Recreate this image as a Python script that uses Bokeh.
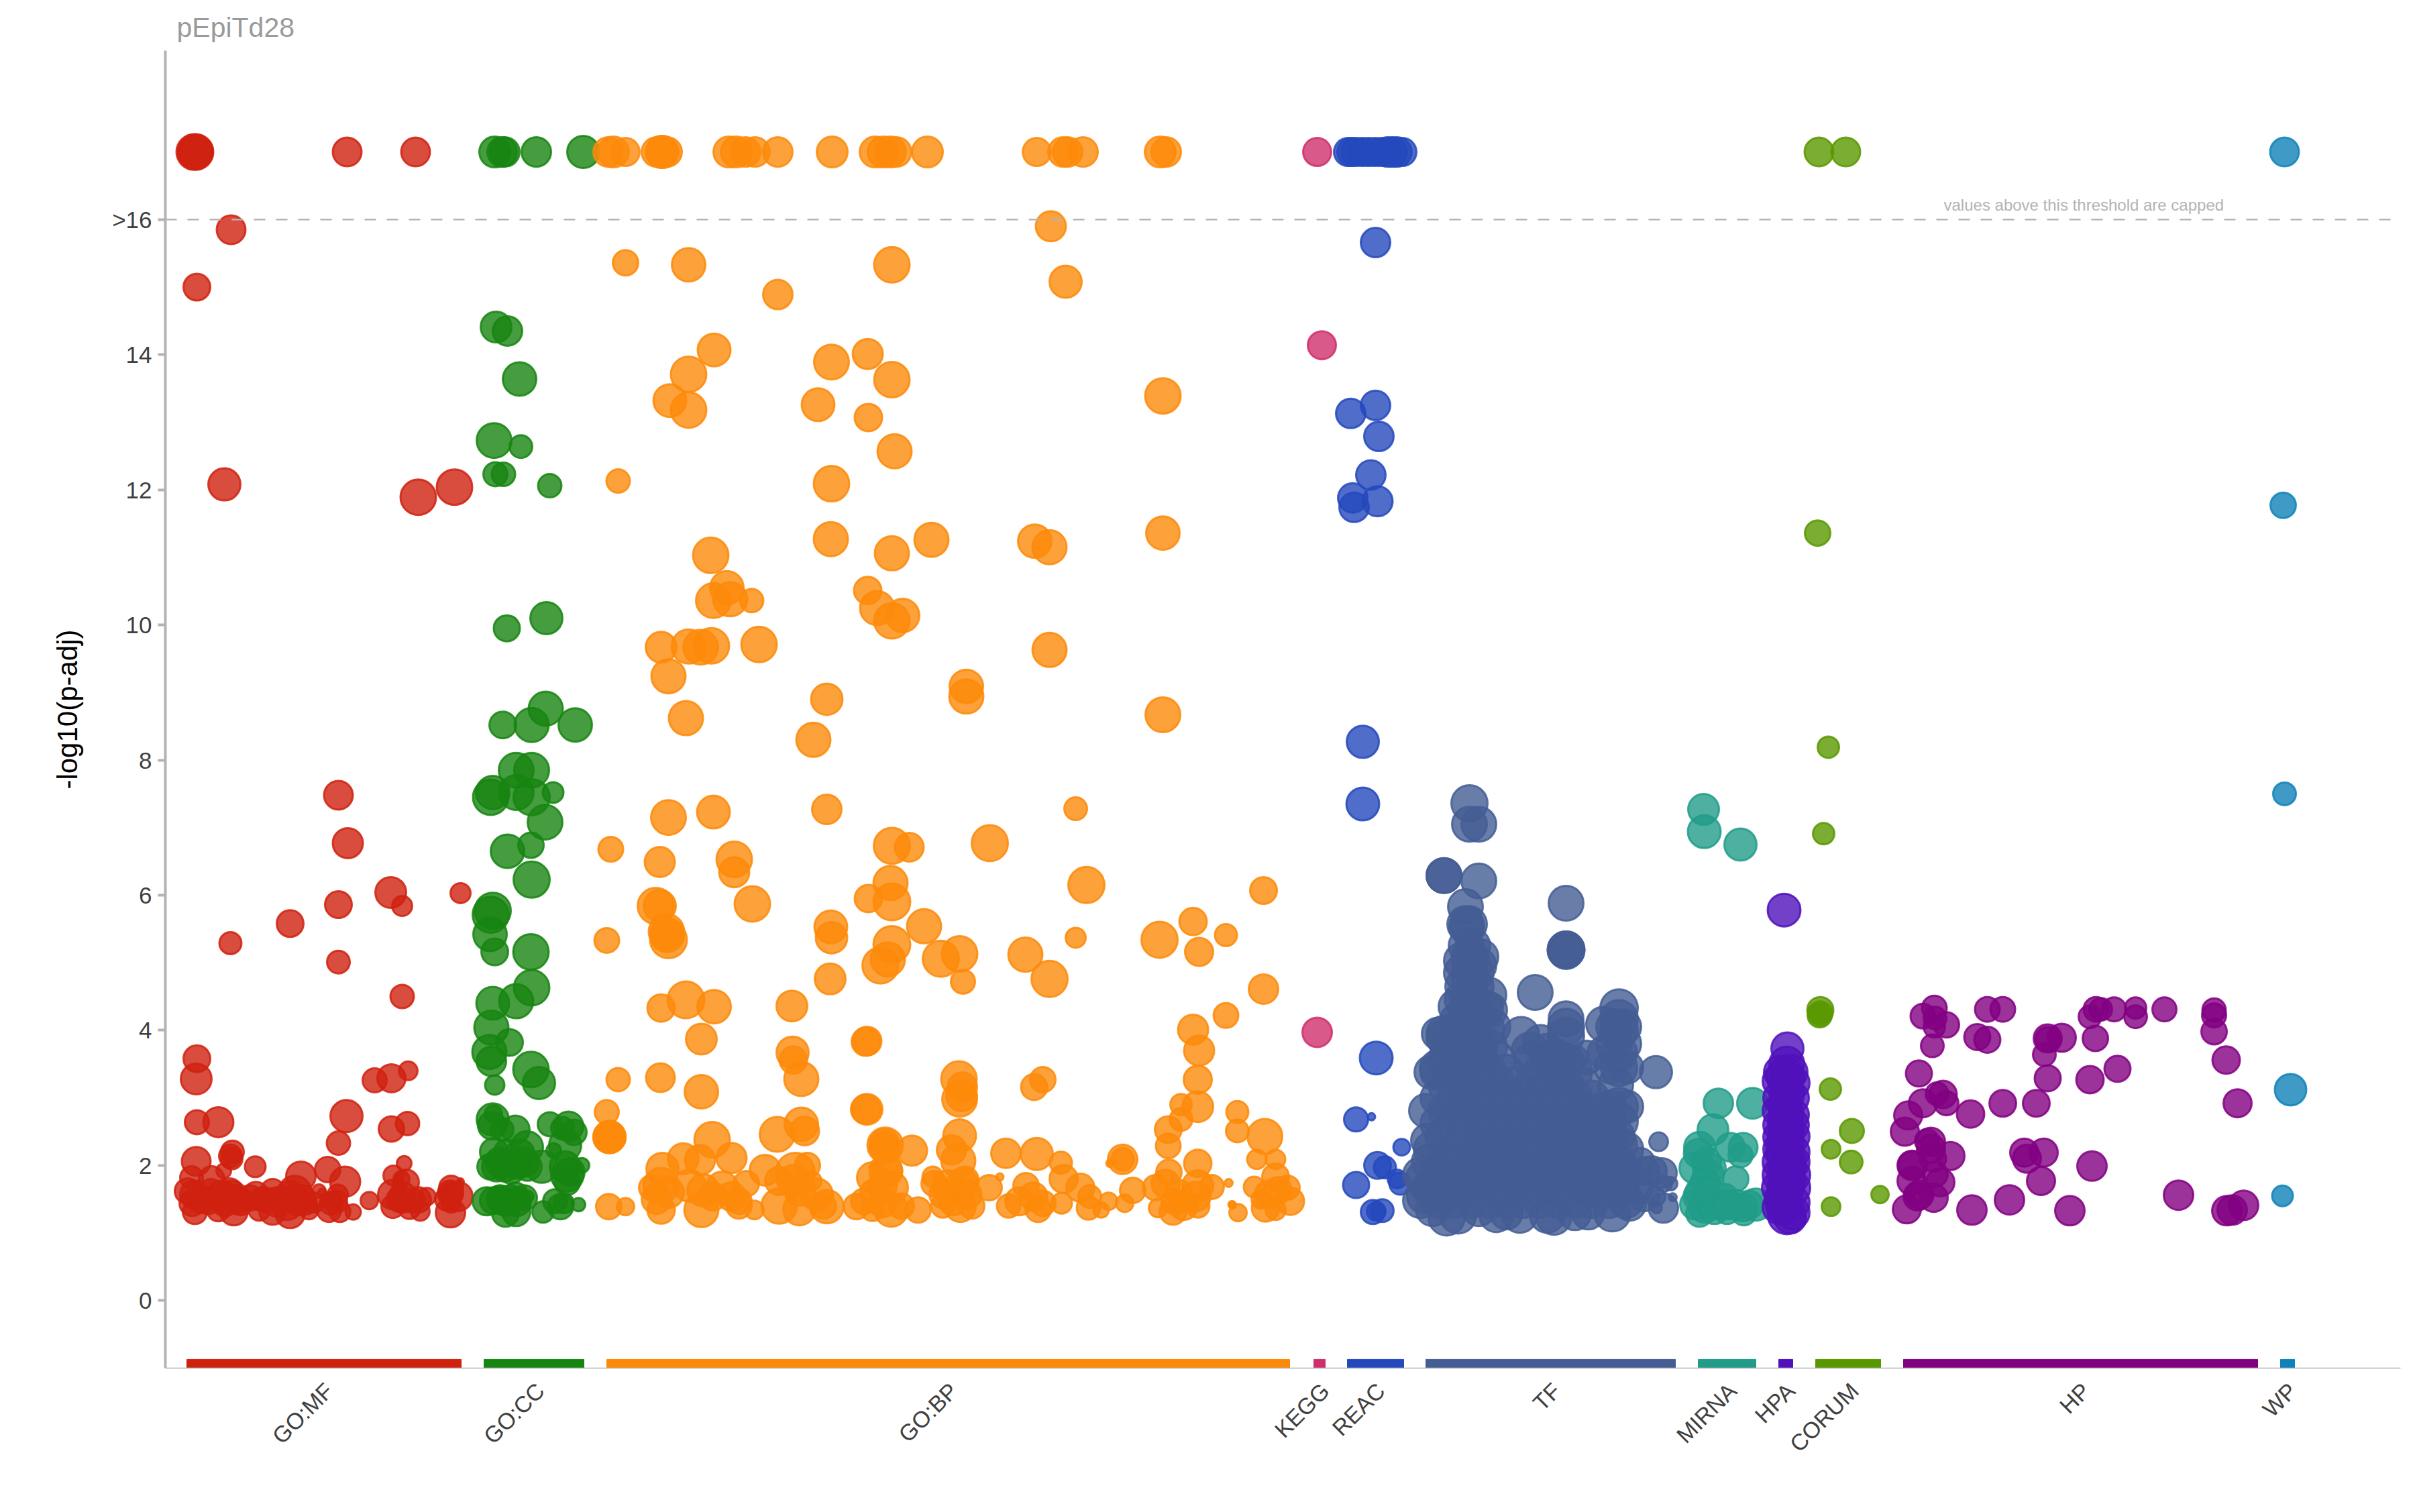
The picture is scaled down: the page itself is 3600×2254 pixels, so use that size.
from bokeh.plotting import figure
from bokeh.embed import file_html
from bokeh.resources import INLINE
from bokeh.models import Range1d, FixedTicker, Title
from bokeh.core.properties import value
import math

FONT = "Liberation Sans"

# sources
source_names = ["GO:MF","GO:CC","GO:BP","KEGG","REAC","TF","MIRNA","HPA","CORUM","HP","WP"]
source_colors = ["#d0210f","#168510","#fd8909","#cf2f6e","#2449bd","#445d94","#209c88","#5011bb","#5a9800","#820082","#0f82b8"]
bar_start = [278,721,904,1958,2008,2125,2531,2651,2706,2837,3399]
bar_end   = [687,870,1922,1975,2092,2497,2617,2672,2803,3365,3420]
name_pos  = [490,805,1421,1975,2058,2320,2582,2669,2764,3109,3417]

# each point: term position, -log10(p-adj), marker diameter
go_mf = [
(291,17,55),(289,17,55),(292,17,52),(517,17,45),(619,17,45),
(344,15.85,45),(293,15.0,42),(334,12.08,50),(623,11.89,55),(677,12.04,55),
(504,7.48,45),(518,6.77,47),(582,6.04,48),(599,5.84,32),(686,6.03,32),(504,5.86,42),(432,5.58,42),
(343,5.29,35),(504,5.01,36),(599,4.50,37),
(293,3.58,42),(292,3.28,48),(558,3.26,38),(583,3.29,44),(608,3.40,30),(293,2.64,38),(325,2.64,47),
(516,2.73,50),(583,2.54,40),(607,2.62,37),(504,2.33,37),(346,2.20,36),(343,2.14,36),(345,2.10,34),
(292,2.06,45),(380,1.98,33),(488,1.94,40),(514,1.76,47),(448,1.84,46),(333,1.92,24),(602,2.03,24),
(586,1.85,32),(285,1.82,36),(315,1.80,40),(598,1.80,26),(605,1.75,40),(686,1.76,12),(671,1.59,40),
(475,1.62,22),(480,1.60,14),(550,1.48,28),(526,1.31,25),(671,1.30,46),(432,1.29,46),(290,1.31,38),
(279,1.62,40),(289,1.57,44),(286,1.44,40),(314,1.62,38),(325,1.34,36),(330,1.57,44),(345,1.57,44),
(348,1.32,44),(358,1.44,38),(342,1.62,40),(381,1.57,40),(386,1.34,34),(396,1.49,38),(406,1.62,38),
(406,1.32,42),(422,1.49,42),(432,1.54,48),(439,1.60,52),(444,1.44,38),(455,1.44,36),(460,1.34,30),
(490,1.34,38),(503,1.57,32),(506,1.32,34),(493,1.44,36),(585,1.57,46),(585,1.39,36),(600,1.57,40),
(610,1.365,34),(600,1.44,30),(623,1.49,40),(626,1.32,30),(636,1.54,28),(672,1.57,36),(672,1.44,30),
(682,1.54,46),(672,1.67,38),
(300,1.50,44),(310,1.48,42),(335,1.46,44),(352,1.50,44),(372,1.52,40),(390,1.50,38),(412,1.46,46),
(428,1.42,48),(450,1.52,40),(468,1.45,32),(500,1.46,36),(595,1.50,40),(615,1.48,38),(665,1.50,36),
]
go_cc = [
(737,17,48),(748,17,46),(752,17,46),(799,17,46),(869,17,50),
(739,14.41,48),(756,14.35,46),(774,13.64,52),(736,12.73,54),(776,12.64,36),(738,12.23,38),(750,12.23,37),
(819,12.06,37),(755,9.95,41),(814,10.10,50),(749,8.52,42),(792,8.52,53),(813,8.76,53),(857,8.52,52),
(769,7.85,54),(792,7.85,54),(731,7.45,55),(734,7.52,52),(769,7.52,54),(792,7.45,56),(824,7.52,33),
(812,7.08,54),(756,6.65,52),(791,6.74,40),(792,6.23,56),(734,5.77,56),(731,5.71,56),(730,5.42,52),
(737,5.16,42),(791,5.16,55),(792,4.63,55),(734,4.40,51),(769,4.43,53),(732,4.04,53),(759,3.82,42),
(729,3.68,53),(732,3.54,46),(791,3.42,55),(803,3.22,50),(737,3.19,31),
(734,2.68,50),(735,2.76,28),(733,2.59,44),(748,2.53,36),(768,2.53,44),(819,2.61,38),(847,2.58,46),
(855,2.49,40),(785,2.27,50),(842,2.30,50),(825,2.22,24),(736,2.20,44),(730,1.98,40),(745,2.05,46),
(761,1.95,46),(781,2.05,46),(807,1.98,50),(786,1.98,44),(842,1.98,48),(867,2.0,24),(845,1.85,50),
(845,1.75,40),(725,1.47,44),(753,1.44,40),(768,1.57,38),(781,1.52,40),(753,1.29,42),(769,1.31,44),
(745,1.52,40),(809,1.31,34),(827,1.47,38),(835,1.39,40),(840,1.44,32),(862,1.42,22),(786,1.54,20),
(740,1.98,46),(752,1.98,46),(770,2.02,46),(745,1.50,42),(760,1.50,44),(770,1.46,44),(735,1.48,42),
(775,2.18,44),(755,2.20,40),(838,2.55,36),(850,1.90,44),
]
go_bp = [
(906,17,46),(914,17,48),(932,17,44),(978,17,46),(986,17,50),(987,17,50),(994,17,46),(1086,17,48),(1097,17,48),
(1111,17,46),(1125,17,46),(1159,17,46),(1240,17,48),(1304,17,48),(1316,17,48),(1327,17,48),(1336,17,46),
(1382,17,48),(1545,17,44),(1584,17,46),(1591,17,46),(1614,17,46),(1729,17,48),(1738,17,46),
(1566,15.90,47),(932,15.36,40),(1026,15.33,52),(1329,15.33,55),(1588,15.08,50),(1159,14.89,46),
(1064,14.07,51),(1026,13.71,55),(998,13.32,51),(1026,13.18,55),(1239,13.89,54),(1293,14.01,47),
(1329,13.63,55),(1219,13.26,51),(1294,13.07,43),(1333,12.57,53),(1239,12.09,55),(921,12.13,37),
(1059,11.03,55),(1238,11.27,53),(1329,11.06,53),(1388,11.26,53),(1542,11.24,52),(1564,11.15,53),
(1083,10.55,52),(1063,10.36,54),(1088,10.38,53),(1120,10.36,37),(1293,10.51,43),(1307,10.25,53),
(1345,10.14,52),(1329,10.06,55),(985,9.67,48),(1026,9.68,53),(1044,9.67,54),(1060,9.69,55),(1131,9.71,55),
(1564,9.63,53),(996,9.24,53),(1440,9.09,52),(1440,8.94,53),(1232,8.90,49),(1022,8.62,53),(1212,8.30,53),
(1733,8.67,54),(1733,13.39,55),(1733,11.36,52),
(996,7.15,54),(1063,7.23,51),(1232,7.27,46),(910,6.68,39),(983,6.49,47),(1094,6.53,55),(1094,6.34,47),
(1121,5.87,55),(977,5.84,56),(983,5.84,50),(993,5.46,55),(994,5.41,53),(996,5.34,57),(904,5.33,39),
(1329,6.73,56),(1355,6.71,45),(1327,6.18,53),(1329,5.90,57),(1294,5.95,43),(1238,5.53,51),(1239,5.37,49),
(1237,4.76,48),(1329,5.27,57),(1312,4.96,56),(1323,5.05,53),(1377,5.54,53),(985,4.33,43),(1022,4.45,57),
(1064,4.35,52),(1180,4.36,48),
(1603,7.28,36),(1475,6.77,56),(1619,6.15,56),(1883,6.07,42),(1402,5.06,56),(1430,5.13,55),(1435,4.72,38),
(1528,5.12,53),(1564,4.76,56),(1603,5.37,32),(1728,5.34,56),(1778,5.61,43),(1827,5.41,35),(1787,5.16,44),
(1883,4.61,46),(1827,4.22,39),(1778,4.01,47),(1787,3.70,47),(1785,3.27,44),(1785,2.87,48),(1760,2.90,34),
(1760,2.68,36),(1741,2.53,42),(1741,2.29,39),(1844,2.79,35),(1844,2.51,36),(1885,2.43,54),(1873,2.09,31),
(1901,2.09,31),(1785,2.03,43),(1429,3.28,55),(1434,3.16,46),(1430,2.98,54),(1433,3.03,48),(1554,3.27,40),
(1541,3.16,41),(1430,2.44,51),(1418,2.23,46),(1428,2.07,53),(1499,2.18,46),(1545,2.17,50),(1581,2.04,35),
(1359,2.22,47),(1318,2.32,46),(1318,2.27,46),(1320,1.92,51),(1673,2.09,46),(1673,2.09,36),(1654,2.03,13),
(1490,1.83,13),(1831,1.74,14),(1836,1.42,13),(1290,2.83,46),(1290,3.83,44),
(1045,3.87,48),(1292,3.84,45),(1181,3.67,50),(1182,3.56,43),(1194,3.28,53),(921,3.27,37),(984,3.30,45),
(1045,3.09,52),(904,2.79,38),(908,2.42,50),(908,2.42,50),(908,2.42,50),(1292,2.83,48),(1061,2.38,55),
(1158,2.46,54),(1194,2.61,52),(1199,2.51,45),(1319,2.30,55),(1319,2.27,40),(1018,2.10,48),(1043,2.08,47),
(1090,2.11,47),(987,1.95,50),(1140,1.93,48),(1300,1.82,48),(1322,1.92,47),(1185,1.90,60),(1203,2.0,40),
(1390,1.83,33),(1438,1.78,43),(1742,1.9,40),
(907,1.39,40),(932,1.39,28),(985,1.34,43),(1045,1.34,53),(1101,1.40,40),(1124,1.34,30),(1161,1.40,55),
(1191,1.35,50),(1232,1.39,52),(1276,1.39,40),(1300,1.35,37),(1328,1.34,52),(1368,1.34,40),(1405,1.40,37),
(1431,1.39,48),(1503,1.40,37),(1547,1.35,40),(1582,1.44,33),(1622,1.37,37),(1641,1.34,25),(1676,1.44,28),
(1726,1.37,30),(1748,1.32,42),(1785,1.40,37),(1845,1.30,28),(1837,1.41,12),(1886,1.37,43),(1901,1.34,32),
(1923,1.47,43),(1869,1.68,33),(1919,1.67,38),(1901,1.83,42),
(985,1.70,55),(971,1.67,40),(996,1.60,48),(1027,1.70,50),(1048,1.63,50),(1076,1.67,50),(1090,1.54,45),
(1101,1.47,40),(1112,1.73,40),(978,1.50,46),(1062,1.54,44),(1182,1.77,50),(1192,1.63,48),(1217,1.57,50),
(1227,1.40,40),(1161,1.77,44),(1210,1.77,30),(1301,1.60,40),(1315,1.70,45),(1329,1.67,50),(1287,1.47,40),
(1315,1.44,44),(1343,1.40,40),(1392,1.73,40),(1413,1.70,48),(1434,1.73,48),(1441,1.57,45),(1420,1.47,44),
(1406,1.57,44),(1448,1.40,40),(1474,1.67,40),(1529,1.70,40),(1519,1.47,44),(1540,1.54,44),(1554,1.44,40),
(1585,1.80,44),(1610,1.67,44),(1624,1.54,36),(1652,1.47,28),(1688,1.63,40),(1722,1.67,40),(1737,1.73,44),
(1757,1.60,40),(1785,1.70,48),(1806,1.68,38),(1764,1.40,44),(1782,1.54,46),(1750,1.47,40),(1891,1.57,44),
(1905,1.63,42),(1879,1.5,30),
]
kegg = [(1963,17,44),(1970,14.14,44),(1963,3.97,46)]
reac = [
(2009,17,44),(2014,17,44),(2020,17,44),(2030,17,44),(2040,17,44),(2050,17,44),(2060,17,44),(2068,17,46),
(2075,17,46),(2082,17,46),(2090,17,44),(2050,15.66,46),(2013,13.13,46),(2050,13.25,46),(2055,12.79,46),
(2043,12.22,46),(2016,11.88,46),(2018,11.74,46),(2053,11.83,47),(2031,8.27,50),(2031,7.35,51),
(2051,3.59,51),(2021,2.68,38),(2044,2.72,13),(2089,2.27,27),(2053,2.0,42),(2064,1.97,35),(2082,1.80,30),
(2087,1.73,35),(2021,1.71,41),(2046,1.31,38),(2060,1.33,36),(2051,1.32,30),
]
tf = [
(2190,7.36,56),(2190,7.05,54),(2204,7.05,54),(2152,6.29,54),(2152,6.29,54),(2204,6.21,54),(2184,5.83,54),
(2334,5.88,54),(2334,5.19,57),(2334,5.19,57),(2334,5.17,55),(2288,4.56,54),
(2184,5.57,56),(2189,5.57,56),(2186,5.53,54),(2191,5.06,58),(2207,5.09,54),(2179,5.03,56),(2204,4.96,54),
(2189,4.81,54),(2191,5.06,56),(2191,4.52,56),(2219,4.52,54),(2179,4.46,54),(2214,4.33,54),(2184,4.27,54),
(2153,3.95,56),(2173,4.14,56),(2214,4.01,58),(2179,4.01,56),(2153,3.89,56),(2204,3.76,56),(2168,3.7,56),
(2267,3.93,56),(2334,4.17,54),(2334,4.05,56),(2334,3.92,56),(2390,4.09,54),(2413,4.33,58),(2413,4.17,58),
(2413,4.01,58),(2365,3.6,52),(2349,3.6,36),(2390,3.67,50),(2413,3.67,56),(2413,3.44,56),(2408,3.19,54),
(2413,2.87,58),(2413,2.65,58),(2413,2.3,56),(2413,1.99,56),(2413,1.67,56),
(2468,3.38,50),(2472,2.35,30),(2479,1.37,46),(2490,1.73,22),(2493,1.53,14),(2469,1.37,18),(2467,1.54,32),
(2477,1.89,46),(2462,1.92,46),(2480,1.73,26),(2452,1.92,44),(2439,1.67,50),
(2133,3.38,52),(2125,2.81,52),(2128,2.37,52),(2143,3.95,50),(2143,3.44,56),
(2122,1.8,56),(2122,1.54,52),(2135,1.35,52),(2156,1.23,56),(2173,1.26,56),(2204,1.35,52),(2230,1.26,52),
(2245,1.29,50),(2265,1.26,54),(2306,1.26,54),(2316,1.23,54),(2347,1.28,50),(2367,1.29,50),(2403,1.29,56),
(2429,1.42,50),
(2117,1.48,54),(2143,1.48,54),(2168,1.48,54),(2194,1.48,54),(2219,1.48,54),(2245,1.48,54),(2270,1.48,54),
(2296,1.48,54),(2321,1.48,54),(2347,1.48,54),(2372,1.48,54),(2398,1.48,54),(2423,1.48,54),
(2117,1.86,54),(2143,1.86,54),(2168,1.86,54),(2194,1.86,54),(2219,1.86,54),(2245,1.86,54),(2270,1.86,54),
(2296,1.86,54),(2321,1.86,54),(2347,1.86,54),(2372,1.86,54),(2398,1.86,54),(2423,1.86,54),
(2133,2.24,54),(2168,2.24,54),(2194,2.24,54),(2219,2.24,54),(2245,2.24,54),(2270,2.24,54),(2296,2.24,54),
(2321,2.24,54),(2347,2.24,54),(2372,2.24,54),(2398,2.24,54),(2423,2.24,54),
(2143,2.62,54),(2168,2.62,54),(2194,2.62,54),(2219,2.62,54),(2245,2.62,54),(2270,2.62,54),(2296,2.62,54),
(2321,2.62,54),(2347,2.62,54),(2372,2.62,54),(2398,2.62,54),
(2143,3.0,54),(2168,3.0,54),(2194,3.0,54),(2219,3.0,54),(2245,3.0,54),(2270,3.0,54),(2296,3.0,54),
(2321,3.0,54),(2347,3.0,54),(2372,3.0,54),
(2143,3.38,54),(2168,3.38,54),(2194,3.38,54),(2219,3.38,54),(2245,3.38,54),(2296,3.38,54),(2321,3.38,54),
(2347,3.38,54),(2296,3.82,54),(2321,3.6,54),
(2130,1.67,54),(2155,1.67,54),(2181,1.67,54),(2206,1.67,54),(2232,1.67,54),(2257,1.67,54),(2283,1.67,54),
(2308,1.67,54),(2334,1.67,54),(2359,1.67,54),(2385,1.67,54),(2410,1.67,54),
(2130,2.05,54),(2155,2.05,54),(2181,2.05,54),(2206,2.05,54),(2232,2.05,54),(2257,2.05,54),(2283,2.05,54),
(2308,2.05,54),(2334,2.05,54),(2359,2.05,54),(2385,2.05,54),(2410,2.05,54),
(2150,2.43,54),(2181,2.43,54),(2206,2.43,54),(2232,2.43,54),(2257,2.43,54),(2283,2.43,54),(2308,2.43,54),
(2334,2.43,54),(2359,2.43,54),(2385,2.43,54),(2410,2.43,54),
(2155,2.81,54),(2181,2.81,54),(2206,2.81,54),(2232,2.81,54),(2257,2.81,54),(2283,2.81,54),(2308,2.81,54),
(2334,2.81,54),(2359,2.81,54),(2385,2.81,54),
(2155,3.19,54),(2181,3.19,54),(2206,3.19,54),(2232,3.19,54),(2257,3.19,54),(2283,3.19,54),(2308,3.19,54),
(2334,3.19,54),(2359,3.19,54),
(2155,3.57,54),(2181,3.57,54),(2206,3.57,54),(2232,3.57,54),(2283,3.55,56),(2308,3.57,54),(2334,3.55,54),
(2158,3.75,54),(2181,3.85,54),(2196,3.85,54),(2220,3.75,54),(2170,4.0,54),(2195,4.1,56),(2225,4.05,54),
(2170,4.35,54),(2195,4.35,54),(2220,4.30,54),(2180,4.65,54),(2200,4.65,54),(2178,4.85,54),(2200,4.85,54),
(2185,5.25,54),(2195,5.25,54),(2280,3.70,56),(2305,3.70,52),(2400,2.87,50),(2425,2.87,50),(2400,3.45,50),
(2425,3.45,50),(2405,4.05,54),(2420,4.05,54),(2405,3.80,54),(2420,3.80,54),(2445,2.05,44),(2450,1.55,48),
]
mirna = [
(2539,7.27,48),(2540,6.94,51),(2594,6.75,50),(2561,2.92,46),(2612,2.92,48),(2553,2.53,48),(2533,2.27,48),
(2579,2.27,45),(2598,2.27,45),(2594,2.15,38),(2531,2.18,45),(2526,1.96,48),(2587,1.8,40),(2543,2.05,46),
(2546,1.86,48),(2551,1.96,44),(2541,1.73,46),(2526,1.42,46),(2533,1.29,42),(2551,1.45,50),(2574,1.32,40),
(2599,1.29,38),(2617,1.42,50),(2587,1.42,46),(2561,1.42,46),(2541,1.39,50),(2531,1.54,46),(2571,1.54,40),
(2607,1.42,44),(2535,1.60,48),(2548,1.60,48),(2555,1.35,46),(2575,1.42,46),(2598,1.38,44),
]
hpa = [
(2659,5.78,51),(2664,3.73,50),(2663,3.5,54),(2653,3.38,50),(2668,3.38,54),(2661,3.32,58),(2663,3.06,54),
(2650,2.81,48),(2673,2.75,48),(2661,2.62,54),(2661,2.37,56),(2653,2.24,52),(2673,2.43,50),(2663,1.99,58),
(2653,1.86,54),(2673,1.86,52),(2661,1.67,56),(2655,1.51,52),(2671,1.45,54),(2663,1.26,58),(2668,1.23,50),
(2660,2.9,52),(2658,2.2,54),(2665,1.75,54),(2665,2.1,52),(2662,3.2,50),
(2652,3.25,52),(2672,3.22,52),(2652,3.0,50),(2672,3.0,50),(2652,2.6,50),(2672,2.6,50),(2652,2.42,50),
(2672,2.2,52),(2652,2.05,52),(2672,2.05,52),(2652,1.67,54),(2672,1.67,54),(2652,1.38,52),(2672,1.30,52),
(2660,1.40,56),(2662,2.75,54),(2662,2.50,54),(2662,1.85,56),
]
corum = [
(2711,17,45),(2751,17,45),(2709,11.36,40),(2725,8.19,34),(2718,6.91,34),(2713,4.30,41),(2713,4.25,38),
(2712,4.22,38),(2728,3.13,34),(2760,2.51,38),(2729,2.24,30),(2759,2.05,36),(2802,1.57,28),(2729,1.39,30),
]
hp = [
(2883,4.33,39),(2866,4.21,39),(2884,4.18,36),(2901,4.08,40),(2883,4.05,34),(2880,3.77,36),(2962,4.31,39),
(2985,4.31,39),(2947,3.90,41),(2962,3.86,41),(3052,3.88,44),(3052,3.87,38),(3073,3.89,44),(3047,3.64,36),
(3123,3.88,40),(3115,4.20,36),(3124,4.31,39),(3131,4.31,36),(3151,4.31,38),(3183,4.33,34),(3183,4.20,36),
(3226,4.31,38),(3300,4.30,37),(3300,4.22,38),(3300,3.98,40),(3318,3.56,43),(3156,3.43,41),(3115,3.27,43),
(3052,3.29,41),(3335,2.92,44),(3035,2.92,42),(2985,2.92,42),(2860,3.36,41),(2887,3.06,36),(2896,3.05,43),
(2866,2.92,44),(2901,2.92,38),(2937,2.76,43),(2844,2.74,44),(2839,2.50,44),(2878,2.35,44),(2872,2.36,38),
(2878,2.25,44),(2881,2.10,41),(2907,2.14,44),(2850,2.0,46),(2850,2.0,44),(3017,2.19,44),(3046,2.19,44),
(3021,2.10,44),(3118,1.99,46),(3042,1.77,44),(2849,1.77,44),(2892,1.75,44),(2884,1.87,40),(2861,1.57,44),
(2858,1.54,44),(2882,1.52,44),(2842,1.35,44),(2939,1.34,46),(2995,1.49,46),(3085,1.33,46),(3247,1.56,46),
(3319,1.33,46),(3327,1.34,46),(3344,1.41,46),
]
wp = [(3405,17,45),(3403,11.77,40),(3405,7.50,36),(3414,3.12,49),(3402,1.55,33)]

source_points = [go_mf,go_cc,go_bp,kegg,reac,tf,mirna,hpa,corum,hp,wp]

y_ticks = [0,2,4,6,8,10,12,14,16]
y_tick_labels = ["0","2","4","6","8","10","12","14",">16"]
threshold = 16
threshold_x = [246,3564]
note = "values above this threshold are capped"
note_x = 2897
note_y = 16.08
title_text = "pEpiTd28"
y_label = "-log10(p-adj)"

p = figure(width=3590, height=2240, output_backend="svg", toolbar_location=None,
           x_range=Range1d(246,3578), y_range=Range1d(-1,18.5),
           min_border_left=246, min_border_right=12, min_border_top=75, min_border_bottom=201)
p.grid.visible = False
p.outline_line_color = None

t = Title(text=title_text, align="left", text_font=FONT, text_font_size="41px",
          text_font_style="normal", text_color="#9a9a9a", offset=17, standoff=23)
p.title = t

for pts, col in zip(source_points, source_colors):
    p.scatter([q[0] for q in pts],[q[1] for q in pts],size=[q[2]-2 for q in pts],
              marker="circle",fill_color=col,fill_alpha=0.8,line_color=col,line_alpha=0.85,line_width=3)

p.quad(left=bar_start,right=bar_end,bottom=[-1]*len(bar_start),top=[-0.87]*len(bar_start),
       fill_color=source_colors,line_color=source_colors,line_width=1)

p.line(threshold_x,[threshold,threshold],line_color="#b3b3b3",line_width=2.5,line_dash="17 16")
p.text([note_x],[note_y],text=[note],text_font=value(FONT),text_font_size="24px",text_color="#b3b3b3",
       text_align="left",text_baseline="bottom")

ya = p.yaxis[0]
ya.ticker = FixedTicker(ticks=y_ticks)
ya.major_label_overrides = {k:v for k,v in zip(y_ticks,y_tick_labels)}
ya.axis_line_color="#b3b3b3"; ya.axis_line_width=4
ya.major_tick_line_color="#b3b3b3"; ya.major_tick_line_width=4
ya.major_tick_out=11; ya.major_tick_in=0; ya.minor_tick_line_color=None
ya.major_label_text_font=FONT; ya.major_label_text_font_size="35px"; ya.major_label_text_color="#404040"
ya.major_label_standoff=9
ya.axis_label=y_label; ya.axis_label_text_font=FONT; ya.axis_label_text_font_size="42px"
ya.axis_label_text_font_style="normal"; ya.axis_label_text_color="#000000"; ya.axis_label_standoff=40

xa = p.xaxis[0]
xa.ticker = FixedTicker(ticks=name_pos)
xa.major_label_overrides = {k:v for k,v in zip(name_pos,source_names)}
xa.axis_line_color="#b3b3b3"; xa.axis_line_width=1.5
xa.major_tick_line_color=None; xa.minor_tick_line_color=None
xa.major_label_orientation=math.pi/4
xa.major_label_text_font=FONT; xa.major_label_text_font_size="34px"; xa.major_label_text_color="#404040"
xa.major_label_standoff=22

open("out.html","w").write(file_html(p,INLINE))
